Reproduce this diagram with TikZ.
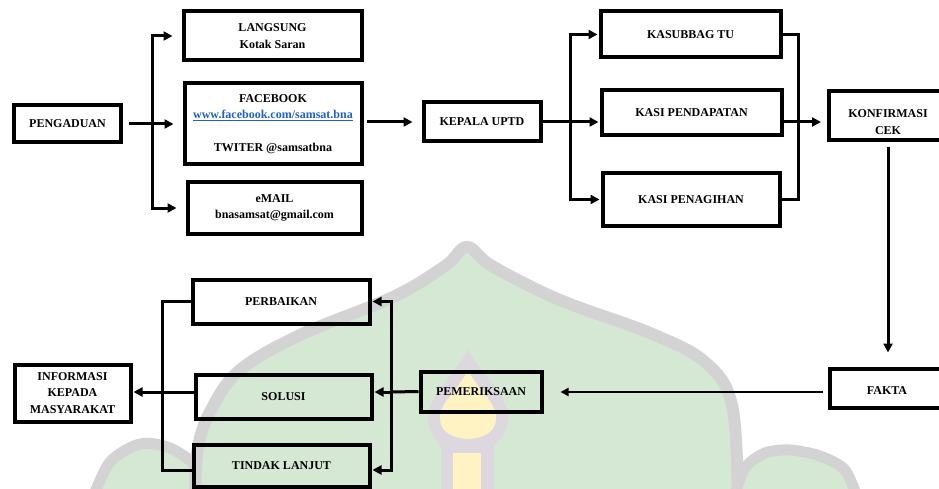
\documentclass[tikz,border=0pt]{standalone}
\usepackage{fontspec}
\setmainfont{Liberation Serif}
\usepackage{tikz}
\usepackage{xcolor}
\usetikzlibrary{arrows.meta, positioning, calc}
\definecolor{wmgreen}{HTML}{D5E8D4}
\definecolor{wmgrey}{HTML}{D3D3D3}
\definecolor{wmyellow}{HTML}{FFF3C4}
\definecolor{wmlilac}{HTML}{DDD7E0}
\definecolor{linkblue}{HTML}{1F5FD0}
\tikzstyle{box} = [draw=black, line width=4pt, align=center,
inner sep=0pt,
font=\fontsize{12}{16.5}\selectfont\bfseries]
\tikzstyle{arrow} = [line width=3pt, -{Triangle[length=9pt,width=9pt]}]
\tikzstyle{thinarrow} = [line width=1.8pt, -{Triangle[length=8pt,width=8pt]}]
\tikzstyle{line} = [line width=3pt]

\begin{document}
\begin{tikzpicture}[x=1pt, y=-1pt]
        \useasboundingbox (0,0) rectangle (939,489);

        % watermark
        \filldraw[fill=wmgreen, draw=wmgrey, line width=11pt] plot[smooth] coordinates {(92,500) (110,462) (140,444) (170,448) (198,468) (212,500)};
        \filldraw[fill=wmgreen, draw=wmgrey, line width=12pt] plot[smooth, tension=0.6] coordinates {(195,500) (198,447) (212,408) (240,370) (300,335) (393,297) (445,266) (467,247) (492,266) (560,300) (650,333) (705,362) (732,405) (738,500)};
        \filldraw[fill=wmgreen, draw=wmgrey, line width=11pt] plot[smooth] coordinates {(733,500) (745,468) (765,453) (790,450) (820,456) (845,470) (858,500)};
        \fill[wmlilac] (468,350) .. controls (455,375) and (428,395) .. (428,418) .. controls (428,435) and (440,442) .. (441,447) -- (441,500) -- (494,500) -- (494,447) .. controls (496,442) and (508,435) .. (508,418) .. controls (508,395) and (481,375) .. (468,350) -- cycle;
        \fill[wmyellow] (468,370) .. controls (458,390) and (440,402) .. (440,418) .. controls (440,432) and (452,438) .. (468,439) .. controls (484,438) and (496,432) .. (496,418) .. controls (496,402) and (478,390) .. (468,370) -- cycle;
        \fill[wmyellow] (453,453) rectangle (481,500);

        % top row
        \node[box, minimum width=107pt, minimum height=37pt] (peng) at (67.5,124) {PENGADUAN};
        \node[box, minimum width=178pt, minimum height=49pt] (langsung) at (272.5,36) {LANGSUNG\\Kotak Saran};
        \node[box, minimum width=177pt, minimum height=81pt] (fb) at (273,124) {FACEBOOK\\{\color{linkblue}\underline{www.facebook.com/samsat.bna}}\\\mbox{}\\TWITER @samsatbna};
        \node[box, minimum width=174pt, minimum height=51pt] (email) at (274.5,208) {eMAIL\\bnasamsat@gmail.com};
        \node[box, minimum width=117pt, minimum height=39pt] (kepala) at (482,122) {KEPALA UPTD};
        \node[box, minimum width=180pt, minimum height=46pt] (kasub) at (690.5,34.5) {KASUBBAG TU};
        \node[box, minimum width=180pt, minimum height=45pt] (kasipend) at (691.5,113) {KASI PENDAPATAN};
        \node[box, minimum width=177pt, minimum height=52pt] (kasipen) at (691,199.5) {KASI PENAGIHAN};
        \node[box, minimum width=118pt, minimum height=49pt] (konf) at (888,116) {\rule{0pt}{20pt}KONFIRMASI\\CEK};

        % bottom row
        \node[box, minimum width=114pt, minimum height=39pt] (fakta) at (887,388) {\rule{0pt}{12pt}FAKTA};
        \node[box, minimum width=121pt, minimum height=40pt] (pemer) at (481,391.5) {PEMERIKSAAN};
        \node[box, minimum width=177pt, minimum height=44pt] (perb) at (281,301.5) {PERBAIKAN};
        \node[box, minimum width=176pt, minimum height=44pt] (solusi) at (283.5,396.5) {SOLUSI};
        \node[box, minimum width=176pt, minimum height=42pt] (tindak) at (281.5,466) {TINDAK LANJUT};
        \node[box, minimum width=116pt, minimum height=57pt] (info) at (72.5,393) {INFORMASI\\KEPADA\\MASYARAKAT};

        \coordinate (s1) at (152,124);
        \coordinate (s2) at (570,122);
        \coordinate (m1) at (798,122);
        \coordinate (s3) at (391,392);
        \coordinate (s4) at (162,392);

        \draw[line, shorten <=6pt] (peng.east) -- (s1);
        \draw[arrow, shorten >=9pt] (s1) |- (langsung.west);
        \draw[arrow, shorten >=9pt] (s1) -- (fb.west);
        \draw[arrow, shorten >=9pt] (s1) |- (email.west);
        \draw[arrow, shorten <=3pt, shorten >=9pt] (fb.east |- kepala.west) -- (kepala.west);

        \draw[line] (kepala.east) -- (s2);
        \draw[arrow, shorten >=1pt] (s2) |- (kasub.west);
        \draw[arrow, shorten >=1pt] (s2) -- (s2 -| kasipend.west);
        \draw[arrow, shorten >=1pt] (s2) |- (kasipen.west);
        \draw[line] (kasub.east) -| (m1) |- (kasipen.east);
        \draw[arrow, shorten >=6pt] (kasipend.east |- m1) -- (m1 -| konf.west);

        \draw[arrow, shorten <=5pt, shorten >=14pt] (konf.south) -- (konf.south |- fakta.north);
        \draw[thinarrow, shorten <=5pt, shorten >=17pt] (fakta.west |- s3) -- (pemer.east |- s3);

        \draw[line] (pemer.west) -- (s3);
        \draw[arrow, shorten >=1pt] (s3) |- (perb.east);
        \draw[arrow, shorten >=1pt] (s3) -- (solusi.east |- s3);
        \draw[arrow, shorten >=1pt] (s3) |- ([yshift=-4pt]tindak.east);
        \draw[line] (perb.west) -| (s4) |- ([yshift=-4pt]tindak.west);
        \draw[arrow, shorten >=1pt] (solusi.west |- s4) -- (info.east |- s4);

    \end{tikzpicture}
\end{document}
